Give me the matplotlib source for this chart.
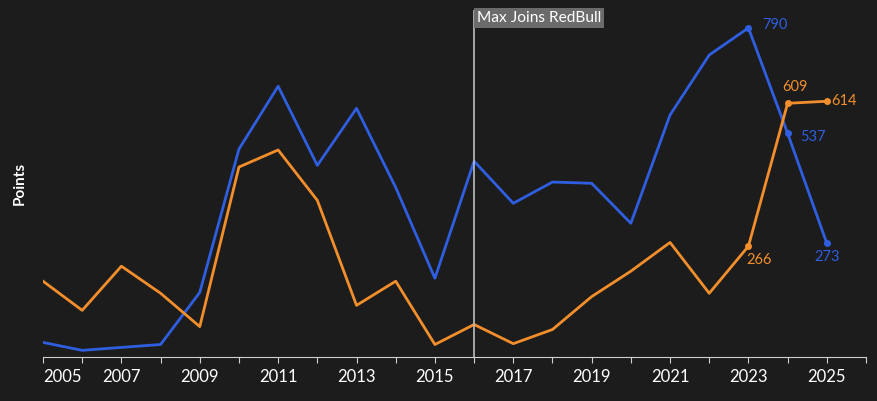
import numpy as np
import matplotlib
matplotlib.use('Agg')
import matplotlib.pyplot as plt

years = list(range(2005, 2026))
redbull = [35, 16, 23, 30, 155, 499, 650, 460, 597, 407, 189, 470, 369, 420, 417, 321, 581, 725, 790, 537, 273]
mclaren = [182, 112, 218, 153, 73, 456, 497, 376, 124, 182, 30, 78, 32, 66, 145, 206, 275, 153, 266, 609, 614]
tick_years = list(range(2005, 2026, 2))

bg = '#1c1c1c'
blue = '#2f5fe0'
orange = '#f28e2b'

plt.rcParams['font.family'] = ['Lato', 'DejaVu Sans']

fig = plt.figure(figsize=(8.78, 4.01), dpi=100, facecolor=bg)
ax = fig.add_axes([43/878, 44/401, 823/878, 347/401], facecolor=bg)

ax.plot(years, redbull, color=blue, lw=2)
ax.plot(years, mclaren, color=orange, lw=2)
ax.plot(years[-3:], redbull[-3:], 'o', color=blue, ms=4)
ax.plot(years[-3:], mclaren[-3:], 'o', color=orange, ms=4)

# value labels on the last three seasons
ax.annotate(str(redbull[-3]), (years[-3], redbull[-3]), xytext=(10, 2), textcoords='offset points',
            color=blue, fontsize=10.5, ha='left', va='center')
ax.annotate(str(redbull[-2]), (years[-2], redbull[-2]), xytext=(9, -3), textcoords='offset points',
            color=blue, fontsize=10.5, ha='left', va='center')
ax.annotate(str(redbull[-1]), (years[-1], redbull[-1]), xytext=(0, -10), textcoords='offset points',
            color=blue, fontsize=10.5, ha='center', va='center')
ax.annotate(str(mclaren[-3]), (years[-3], mclaren[-3]), xytext=(8, -10), textcoords='offset points',
            color=orange, fontsize=10.5, ha='center', va='center')
ax.annotate(str(mclaren[-2]), (years[-2], mclaren[-2]), xytext=(5, 12), textcoords='offset points',
            color=orange, fontsize=10.5, ha='center', va='center')
ax.annotate(str(mclaren[-1]), (years[-1], mclaren[-1]), xytext=(3, 0), textcoords='offset points',
            color=orange, fontsize=10.5, ha='left', va='center')

# Max joins Red Bull
ax.axvline(2016, color='#bdbdbd', lw=1.2)
ax.text(2016.07, 830, 'Max Joins RedBull', color='white', fontsize=11.2, ha='left', va='top',
        bbox=dict(boxstyle='square,pad=0.2', fc='#6b6b6b', ec='none'))

ax.set_xlim(2005, 2026)
ax.set_ylim(0, 833)
ax.set_xticks(range(2005, 2027))
ax.set_xticklabels([str(y) if y in tick_years else '' for y in range(2005, 2027)])
ax.set_yticks([])
for s in ['top', 'right', 'left']:
    ax.spines[s].set_visible(False)
ax.spines['bottom'].set_color('#d0d0d0')
ax.tick_params(axis='x', colors='#d0d0d0', labelcolor='white', labelsize=12, length=4, pad=5)
ax.get_xticklabels()[0].set_horizontalalignment('left')
ax.set_ylabel('Points', color='white', fontsize=11, fontweight='bold', labelpad=12)

fig.savefig('out.png', dpi=100, facecolor=bg)
